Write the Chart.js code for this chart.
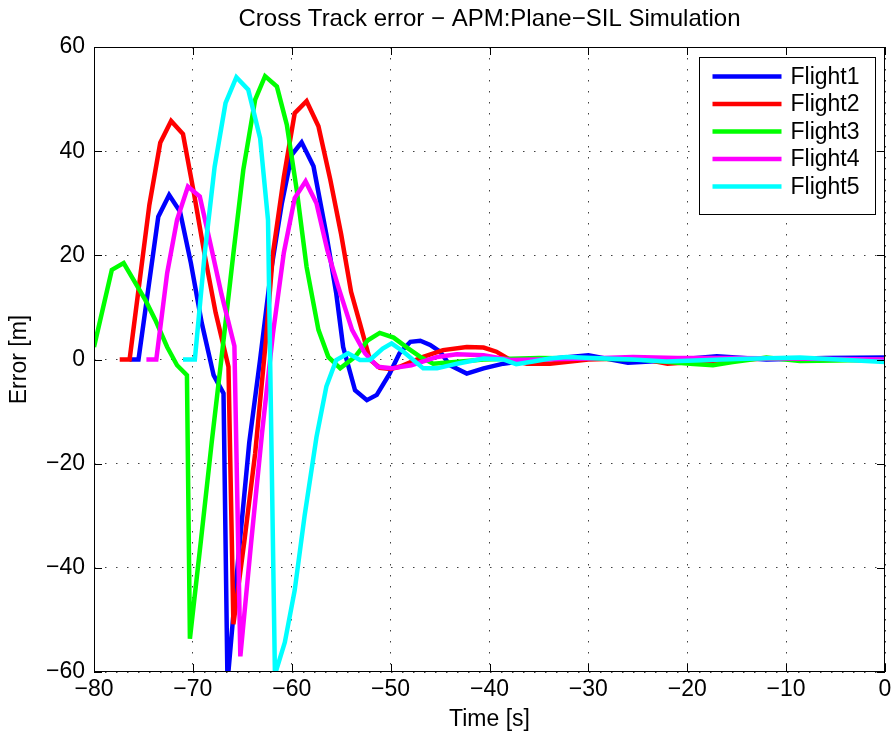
<!DOCTYPE html>
<html>
<head>
<meta charset="utf-8">
<title>Cross Track error</title>
<script src="https://cdn.jsdelivr.net/npm/chart.js@4.4.1/dist/chart.umd.min.js"></script>
<style>
    html, body { margin: 0; padding: 0; background: #fff; }
    #wrap { width: 896px; height: 740px; }
</style>
</head>
<body>
<div id="wrap"><canvas id="xtrackChart" width="896" height="740"></canvas></div>
<script>
// Cross track error per flight, time relative to waypoint [s] and error [m]
const flight1Time = [-76.4, -75.5, -73.5, -72.4, -71.3, -70.2, -69.1, -67.9, -66.9, -66.5, -65.4, -64.3, -63.2, -62.1, -61.0, -60.0, -59.0, -57.8, -56.5, -55.5, -54.8, -53.6, -52.4, -51.4, -50.1, -49.1, -48.0, -47.0, -46.0, -45.0, -44.0, -42.3, -40.6, -38.6, -37.0, -34.0, -30.0, -26.0, -22.0, -17.0, -12.0, -6.0, 0];
const flight1Error = [0, 0, 27.4, 31.6, 28.4, 18.5, 7, -3, -6.5, -62, -38, -16, 0, 17, 30, 39.3, 41.7, 37.1, 24, 12.7, 2.4, -5.9, -7.8, -6.8, -2.7, 1.2, 3.4, 3.6, 2.8, 1.5, -1.1, -2.7, -1.7, -0.8, -0.4, 0.1, 0.8, -0.6, -0.2, 0.6, 0, 0.3, 0.4];

const flight2Time = [-77.4, -76.4, -74.4, -73.3, -72.2, -71.0, -69.9, -68.8, -67.7, -66.4, -65.9, -64.8, -63.7, -62.6, -61.9, -60.8, -59.7, -58.5, -57.3, -56.1, -55.0, -54.0, -53.1, -52.1, -51.1, -50.0, -49.1, -46.7, -44.7, -42.3, -40.6, -39.3, -37.9, -36.2, -33.9, -30.0, -25.0, -22.0, -18.0, -12.0, -6.0, 0];
const flight2Error = [0, 0, 29.7, 41.6, 45.8, 43.3, 32, 20, 9, -1.4, -50.8, -35, -18, 4, 20.4, 35, 47.3, 49.6, 44.8, 34.5, 24, 13, 6.9, 0, -1.6, -1.8, -1.4, 0.5, 1.8, 2.4, 2.3, 1.5, -0.1, -0.8, -0.8, 0, 0.3, -0.8, -0.3, 0.2, 0.1, -0.3];

const flight3Time = [-80.0, -78.2, -77.0, -76.0, -74.8, -73.8, -72.6, -71.6, -70.6, -70.3, -69.2, -68.1, -67.0, -65.9, -64.9, -63.7, -62.7, -61.5, -60.5, -59.5, -58.5, -57.3, -56.3, -55.1, -53.6, -52.3, -51.1, -49.7, -48.2, -47.0, -45.7, -42.3, -40.6, -35.0, -30.0, -25.0, -19.7, -17.4, -15.4, -12.0, -8.6, -5.0, 0];
const flight3Error = [2.4, 17.2, 18.5, 15.3, 11.4, 7.6, 2.4, -1.1, -3.0, -53.6, -35, -16, 2, 20.4, 36.4, 49.9, 54.4, 52.4, 45.1, 32.6, 17.8, 5.7, 0.5, -1.7, 0.5, 3.7, 5.1, 4.2, 2.1, 0.5, -0.8, -0.3, 0, 0.3, 0.2, 0, -0.8, -1.1, -0.5, 0.4, -0.3, -0.2, 0];

const flight4Time = [-74.7, -73.7, -72.6, -71.6, -70.5, -69.3, -68.2, -67.1, -65.8, -65.2, -64.1, -63.0, -61.9, -60.8, -59.7, -58.6, -57.5, -56.4, -55.3, -53.9, -52.6, -51.3, -49.9, -47.9, -45.3, -43.3, -40.6, -37.9, -35.0, -30.0, -25.5, -21.0, -15.4, -10.0, -5.0, 0];
const flight4Error = [0, 0, 16.6, 26.8, 33.2, 31.3, 22, 12.5, 2.6, -57, -35, -14, 5, 20.5, 31, 34.2, 30, 21, 14, 5.7, 1.2, -1.4, -1.7, -1.1, 0.5, 1.0, 0.8, -0.1, 0, 0.2, 0.5, 0.3, 0.3, 0.2, 0.1, 0];

const flight5Time = [-71.0, -69.8, -68.8, -67.8, -66.7, -65.6, -64.4, -63.2, -62.4, -61.7, -60.7, -59.7, -58.7, -57.5, -56.5, -55.5, -54.3, -53.1, -52.1, -50.8, -49.9, -48.7, -46.7, -45.3, -43.3, -40.6, -38.6, -37.3, -35.6, -33.9, -32.2, -25.5, -22.1, -15.0, -8.6, 0];
const flight5Error = [0, 0, 20.4, 37, 49.2, 54.2, 51.8, 42.5, 26.8, -60.5, -54.3, -44.3, -30, -14.9, -5.2, -0.1, 1.2, -0.1, -0.1, 2.1, 3.1, 1.5, -1.7, -1.7, -0.8, 0.2, 0, -0.9, -0.4, 0.2, 0.5, 0, -0.4, 0.1, 0.4, -0.5];

const flightNames = ['Flight1', 'Flight2', 'Flight3', 'Flight4', 'Flight5'];
const flightColors = ['#0000ff', '#ff0000', '#00ff00', '#ff00ff', '#00ffff'];
const timeTicks = [-80, -70, -60, -50, -40, -30, -20, -10, 0];
const errorTicks = [-60, -40, -20, 0, 20, 40, 60];

const FONT = '"Liberation Sans", Arial, Helvetica, sans-serif';

function toPoints(times, errors) {
    return times.map((t, i) => ({ x: t, y: errors[i] }));
}

function minusLabel(v) {
    return v < 0 ? '\u2212' + Math.abs(v) : String(v);
}

// box around the axes with inward ticks on all four sides
const axesFrame = {
    id: 'axesFrame',
    afterDatasetsDraw(chart) {
        const { ctx, chartArea: a, scales: { x, y } } = chart;
        const len = 8;
        ctx.save();
        ctx.strokeStyle = '#000';
        ctx.lineWidth = 1;
        ctx.beginPath();
        timeTicks.forEach(v => {
            const px = Math.round(x.getPixelForValue(v)) + 0.5;
            ctx.moveTo(px, a.bottom); ctx.lineTo(px, a.bottom - len);
            ctx.moveTo(px, a.top); ctx.lineTo(px, a.top + len);
        });
        errorTicks.forEach(v => {
            const py = Math.round(y.getPixelForValue(v)) + 0.5;
            ctx.moveTo(a.left, py); ctx.lineTo(a.left + len, py);
            ctx.moveTo(a.right, py); ctx.lineTo(a.right - len, py);
        });
        ctx.stroke();
        ctx.strokeRect(Math.round(a.left) + 0.5, Math.round(a.top) + 0.5,
            Math.round(a.width) - 1, Math.round(a.height) - 1);
        ctx.restore();
    }
};

// legend box in the upper right corner
const boxLegend = {
    id: 'boxLegend',
    afterDraw(chart) {
        const { ctx, chartArea: a } = chart;
        const w = 176, h = 157;
        const left = Math.round(a.right) - 10 - w + 0.5;
        const top = Math.round(a.top) + 10 + 0.5;
        ctx.save();
        ctx.fillStyle = '#fff';
        ctx.fillRect(left, top, w, h);
        ctx.strokeStyle = '#000';
        ctx.lineWidth = 1;
        ctx.strokeRect(left, top, w, h);
        ctx.font = '23px ' + FONT;
        ctx.textBaseline = 'middle';
        chart.data.datasets.forEach((ds, i) => {
            const yy = top + 19 + i * 27.5;
            ctx.strokeStyle = ds.borderColor;
            ctx.lineWidth = 4.5;
            ctx.beginPath();
            ctx.moveTo(left + 13, yy);
            ctx.lineTo(left + 82, yy);
            ctx.stroke();
            ctx.fillStyle = '#000';
            ctx.fillText(ds.label, left + 91, yy + 1);
        });
        ctx.restore();
    }
};

class CrossTrackChart {
    constructor(canvasId) {
        this.ctx = document.getElementById(canvasId).getContext('2d');
        this.chart = this.createChart();
    }

    buildDatasets() {
        const series = [
            [flight1Time, flight1Error],
            [flight2Time, flight2Error],
            [flight3Time, flight3Error],
            [flight4Time, flight4Error],
            [flight5Time, flight5Error]
        ];
        return series.map(([t, e], i) => ({
            label: flightNames[i],
            data: toPoints(t, e),
            borderColor: flightColors[i],
            backgroundColor: flightColors[i],
            borderWidth: 4.5,
            pointRadius: 0,
            tension: 0,
            fill: false,
            clip: 0,
            // later flights are painted on top
            order: series.length - 1 - i
        }));
    }

    createChart() {
        return new Chart(this.ctx, {
            type: 'line',
            data: { datasets: this.buildDatasets() },
            options: {
                responsive: false,
                animation: false,
                devicePixelRatio: 1,
                layout: { padding: { left: 0, right: 11, top: 0, bottom: 0 } },
                plugins: {
                    legend: { display: false },
                    tooltip: { enabled: false },
                    title: {
                        display: true,
                        fullSize: false,
                        text: 'Cross Track error \u2212 APM:Plane\u2212SIL Simulation',
                        color: '#000',
                        font: { family: FONT, size: 24, weight: 'normal', lineHeight: 1.2 },
                        padding: { top: 5, bottom: 13.2 }
                    }
                },
                scales: {
                    x: {
                        type: 'linear',
                        min: -80,
                        max: 0,
                        afterFit: s => { s.height = 68; },
                        afterBuildTicks: s => { s.ticks = timeTicks.map(v => ({ value: v })); },
                        ticks: {
                            color: '#000',
                            padding: 4,
                            maxRotation: 0,
                            font: { family: FONT, size: 23 },
                            callback: minusLabel
                        },
                        grid: { color: 'rgba(0,0,0,0.75)', lineWidth: 1, drawTicks: false },
                        border: { display: false, dash: [1.5, 9.5] },
                        title: {
                            display: true,
                            text: 'Time [s]',
                            color: '#000',
                            font: { family: FONT, size: 23 },
                            padding: { top: 0, bottom: 7 }
                        }
                    },
                    y: {
                        min: -60,
                        max: 60,
                        afterFit: s => { s.width = 94; },
                        afterBuildTicks: s => { s.ticks = errorTicks.map(v => ({ value: v })); },
                        ticks: {
                            color: '#000',
                            padding: 9,
                            font: { family: FONT, size: 23 },
                            callback: minusLabel
                        },
                        grid: { color: 'rgba(0,0,0,0.75)', lineWidth: 1, drawTicks: false },
                        border: { display: false, dash: [1.5, 9.5] },
                        title: {
                            display: true,
                            text: 'Error [m]',
                            color: '#000',
                            font: { family: FONT, size: 23 },
                            padding: { top: 6, bottom: 0 }
                        }
                    }
                }
            },
            plugins: [axesFrame, boxLegend]
        });
    }
}

document.addEventListener('DOMContentLoaded', () => {
    window.crossTrackChart = new CrossTrackChart('xtrackChart');
});
</script>
</body>
</html>
